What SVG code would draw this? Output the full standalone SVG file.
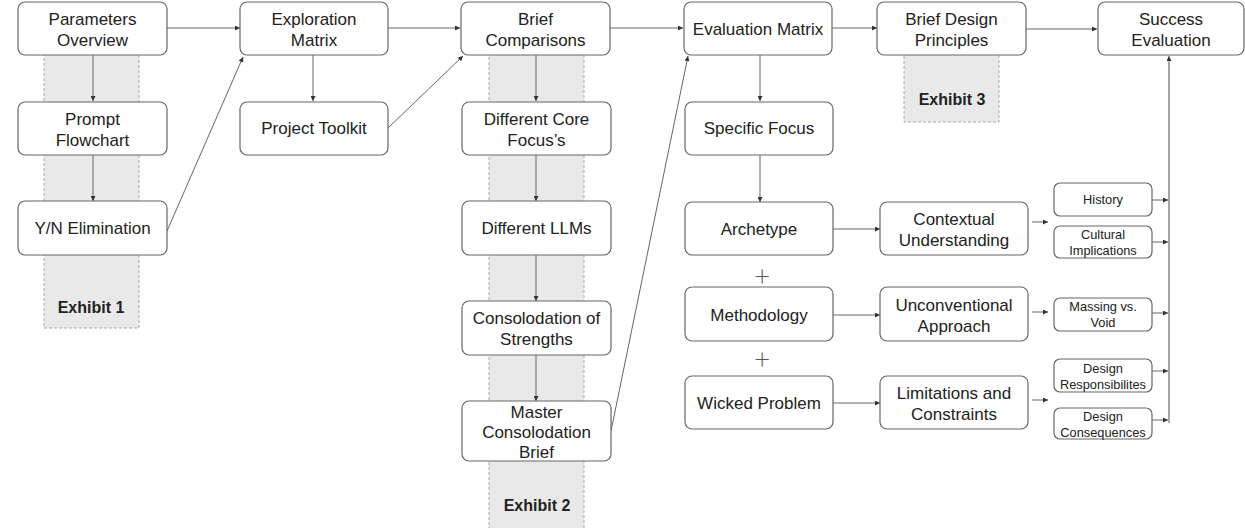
<svg xmlns="http://www.w3.org/2000/svg" width="1245" height="528" viewBox="0 0 1245 528">
<defs>
<marker id="ah" viewBox="0 0 10 10" refX="10" refY="5" markerWidth="6" markerHeight="5" markerUnits="userSpaceOnUse" orient="auto">
<path d="M0,0 L10,5 L0,10 z" fill="#333"/>
</marker>
<style>
.band{fill:#e9e9e9;stroke:#aaa;stroke-width:1;stroke-dasharray:3 2}
.box{fill:#fff;stroke:#666;stroke-width:1.2}
.t{font-family:"Liberation Sans",Arial,sans-serif;font-size:17px;fill:#222;text-anchor:middle}
.s{font-family:"Liberation Sans",Arial,sans-serif;font-size:12.8px;fill:#222;text-anchor:middle}
.ex{font-family:"Liberation Sans",Arial,sans-serif;font-size:16px;font-weight:bold;fill:#222;text-anchor:middle}
.plus{font-family:"Lato","Liberation Sans",sans-serif;font-weight:300;font-size:28px;fill:#555;text-anchor:middle}
.c{stroke:#666;stroke-width:1;fill:none;marker-end:url(#ah)}
.cl{stroke:#888;stroke-width:1.5;fill:none}
</style>
</defs>
<rect width="1245" height="528" fill="#fff"/>

<g id="bands">
<rect class="band" x="44" y="50" width="95" height="278"/>
<text class="ex" x="91" y="313">Exhibit 1</text>
<rect class="band" x="489" y="50" width="95" height="490"/>
<text class="ex" x="537" y="511">Exhibit 2</text>
<rect class="band" x="904" y="50" width="95" height="72"/>
<text class="ex" x="952" y="105">Exhibit 3</text>
</g>

<g id="connectors">
<line class="c" x1="167" y1="28" x2="240" y2="28"/>
<line class="c" x1="388" y1="28" x2="460" y2="28"/>
<line class="c" x1="610" y1="28" x2="683" y2="28"/>
<line class="c" x1="832" y1="28" x2="877" y2="28"/>
<line class="c" x1="1026" y1="29" x2="1097" y2="29"/>
<line class="c" x1="93" y1="55" x2="93" y2="101"/>
<line class="c" x1="93" y1="155" x2="93" y2="201"/>
<line class="c" x1="313" y1="55" x2="313" y2="101"/>
<line class="c" x1="536" y1="55" x2="536" y2="101"/>
<line class="c" x1="536" y1="155" x2="536" y2="201"/>
<line class="c" x1="536" y1="255" x2="536" y2="301"/>
<line class="c" x1="536" y1="355" x2="536" y2="401"/>
<line class="c" x1="760" y1="55" x2="760" y2="101"/>
<line class="c" x1="760" y1="155" x2="760" y2="202"/>
<line class="c" x1="167" y1="231" x2="243" y2="57"/>
<line class="c" x1="388" y1="128" x2="463" y2="56"/>
<line class="c" x1="611" y1="431" x2="688" y2="56"/>
<line class="c" x1="833" y1="229" x2="880" y2="229"/>
<line class="c" x1="833" y1="315" x2="880" y2="315"/>
<line class="c" x1="833" y1="403" x2="880" y2="403"/>
<line class="c" x1="1032" y1="222" x2="1048" y2="222"/>
<line class="c" x1="1032" y1="312" x2="1048" y2="312"/>
<line class="c" x1="1032" y1="400" x2="1048" y2="400"/>
<line class="c" x1="1152" y1="200" x2="1168" y2="200"/>
<line class="c" x1="1152" y1="242" x2="1168" y2="242"/>
<line class="c" x1="1152" y1="313" x2="1168" y2="313"/>
<line class="c" x1="1152" y1="371" x2="1168" y2="371"/>
<line class="c" x1="1152" y1="420" x2="1168" y2="420"/>
<line class="cl" x1="1169" y1="423" x2="1169" y2="62"/>
<line class="c" x1="1169" y1="62" x2="1169" y2="56"/>
</g>

<g id="parameters-overview"><rect class="box" x="18" y="2" width="149" height="53" rx="7"/><text class="t" x="92.5" y="25">Parameters</text><text class="t" x="92.5" y="46">Overview</text></g>
<g id="prompt-flowchart"><rect class="box" x="18" y="102" width="149" height="53" rx="7"/><text class="t" x="92.5" y="125">Prompt</text><text class="t" x="92.5" y="146">Flowchart</text></g>
<g id="yn-elimination"><rect class="box" x="18" y="201" width="149" height="54" rx="7"/><text class="t" x="92.5" y="234">Y/N Elimination</text></g>

<g id="exploration-matrix"><rect class="box" x="240" y="2" width="148" height="53" rx="7"/><text class="t" x="314" y="25">Exploration</text><text class="t" x="314" y="46">Matrix</text></g>
<g id="project-toolkit"><rect class="box" x="240" y="102" width="148" height="53" rx="7"/><text class="t" x="314" y="134">Project Toolkit</text></g>

<g id="brief-comparisons"><rect class="box" x="461" y="2" width="149" height="53" rx="7"/><text class="t" x="535.5" y="25">Brief</text><text class="t" x="535.5" y="46">Comparisons</text></g>
<g id="different-core-focus"><rect class="box" x="462" y="102" width="149" height="53" rx="7"/><text class="t" x="536.5" y="125">Different Core</text><text class="t" x="536.5" y="146">Focus’s</text></g>
<g id="different-llms"><rect class="box" x="462" y="201" width="149" height="54" rx="7"/><text class="t" x="536.5" y="234">Different LLMs</text></g>
<g id="consolodation-of-strengths"><rect class="box" x="462" y="301" width="149" height="54" rx="7"/><text class="t" x="536.5" y="324">Consolodation of</text><text class="t" x="536.5" y="345">Strengths</text></g>
<g id="master-consolodation-brief"><rect class="box" x="462" y="401" width="149" height="60" rx="7"/><text class="t" x="536.5" y="418">Master</text><text class="t" x="536.5" y="438">Consolodation</text><text class="t" x="536.5" y="458">Brief</text></g>

<g id="evaluation-matrix"><rect class="box" x="684" y="2" width="148" height="53" rx="7"/><text class="t" x="758" y="35">Evaluation Matrix</text></g>
<g id="specific-focus"><rect class="box" x="685" y="102" width="148" height="53" rx="7"/><text class="t" x="759" y="134">Specific Focus</text></g>
<g id="archetype"><rect class="box" x="685" y="202" width="148" height="53" rx="7"/><text class="t" x="759" y="235">Archetype</text></g>
<g id="plus-1"><text class="plus" x="762" y="286">+</text></g>
<g id="methodology"><rect class="box" x="685" y="287" width="148" height="54" rx="7"/><text class="t" x="759" y="321">Methodology</text></g>
<g id="plus-2"><text class="plus" x="762" y="369">+</text></g>
<g id="wicked-problem"><rect class="box" x="685" y="376" width="148" height="53" rx="7"/><text class="t" x="759" y="409">Wicked Problem</text></g>

<g id="contextual-understanding"><rect class="box" x="880" y="202" width="148" height="53" rx="7"/><text class="t" x="954" y="225">Contextual</text><text class="t" x="954" y="246">Understanding</text></g>
<g id="unconventional-approach"><rect class="box" x="880" y="287" width="148" height="54" rx="7"/><text class="t" x="954" y="311">Unconventional</text><text class="t" x="954" y="332">Approach</text></g>
<g id="limitations-and-constraints"><rect class="box" x="880" y="376" width="148" height="53" rx="7"/><text class="t" x="954" y="399">Limitations and</text><text class="t" x="954" y="420">Constraints</text></g>

<g id="brief-design-principles"><rect class="box" x="877" y="2" width="149" height="53" rx="7"/><text class="t" x="951.5" y="25">Brief Design</text><text class="t" x="951.5" y="46">Principles</text></g>
<g id="success-evaluation"><rect class="box" x="1098" y="2" width="146" height="53" rx="7"/><text class="t" x="1171" y="25">Success</text><text class="t" x="1171" y="46">Evaluation</text></g>

<g id="history"><rect class="box" x="1054" y="183" width="98" height="33" rx="6"/><text class="s" x="1103" y="204">History</text></g>
<g id="cultural-implications"><rect class="box" x="1054" y="226" width="98" height="32" rx="6"/><text class="s" x="1103" y="239">Cultural</text><text class="s" x="1103" y="255">Implications</text></g>
<g id="massing-vs-void"><rect class="box" x="1054" y="298" width="98" height="33" rx="6"/><text class="s" x="1103" y="311">Massing vs.</text><text class="s" x="1103" y="327">Void</text></g>
<g id="design-responsibilites"><rect class="box" x="1054" y="359" width="98" height="33" rx="6"/><text class="s" x="1103" y="373">Design</text><text class="s" x="1103" y="389">Responsibilites</text></g>
<g id="design-consequences"><rect class="box" x="1054" y="408" width="98" height="31" rx="6"/><text class="s" x="1103" y="421">Design</text><text class="s" x="1103" y="437">Consequences</text></g>
</svg>
